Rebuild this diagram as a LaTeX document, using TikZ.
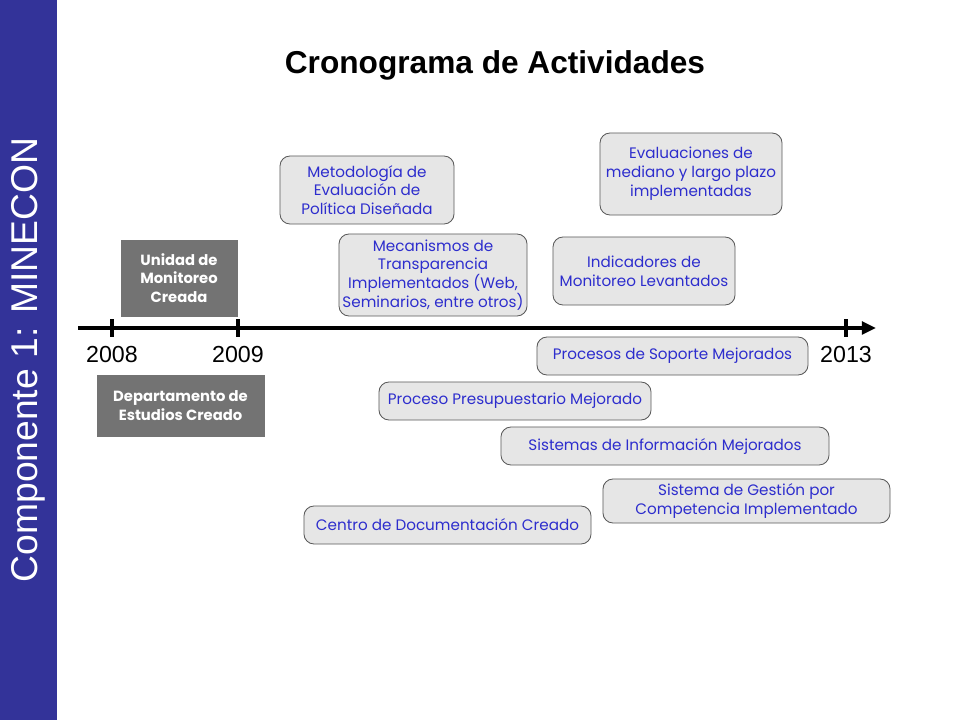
\documentclass[tikz,border=0pt]{standalone}
\usepackage{fontspec}
\setmainfont{Liberation Sans}
\newfontfamily\gothic{Poppins}
\usepackage{tikz}
\usetikzlibrary{arrows.meta, positioning}
\definecolor{bandblue}{RGB}{51, 51, 153}
\definecolor{hitoblue}{RGB}{45, 45, 205}
\definecolor{hitofill}{RGB}{230, 230, 230}
\definecolor{darkfill}{RGB}{115, 115, 115}

\begin{document}
\begin{tikzpicture}[
  x=0.025cm, y=-0.025cm,
  hito/.style={draw=black!65, fill=hitofill, rounded corners=0.25cm,
    line width=0.6pt, align=center, inner sep=1pt, text=hitoblue,
    font=\gothic\fontsize{10.8}{13.4}\selectfont},
  creado/.style={draw=black!55, fill=darkfill, line width=0.6pt,
    align=center, inner sep=1pt, text=white,
    font=\gothic\bfseries\fontsize{10.5}{13.4}\selectfont},
  anio/.style={font=\fontsize{16.5}{18}\selectfont, inner sep=1pt},
  eje/.style={line width=3.5pt, -{Triangle[length=10pt, width=9pt]}},
  marca/.style={line width=2.5pt}
]
\useasboundingbox (0,0) rectangle (960,720);
\fill[bandblue] (0,0) rectangle (57,720);
\node[rotate=90, text=white, font=\fontsize{26.5}{30}\selectfont] (comp)
  at (28,360) {Componente 1: MINECON};
\node[font=\bfseries\fontsize{22.5}{26}\selectfont] (titulo) at (495,65)
  {Cronograma de Actividades};

% linea de tiempo
\coordinate (ini) at (78,328);
\coordinate (fin) at (876,328);
\coordinate (t08) at (112,328);
\coordinate (t09) at (238,328);
\coordinate (t13) at (846,328);
\draw[eje] (ini) -- (fin);
\foreach \t in {t08, t09, t13}
  \draw[marca] ([yshift=0.22cm]\t) -- ([yshift=-0.22cm]\t);
\node[anio, below=0.42cm of t08] (a08) {2008};
\node[anio, below=0.42cm of t09] (a09) {2009};
\node[anio, below=0.42cm of t13] (a13) {2013};

% hitos
\node[creado, minimum width=2.9cm, minimum height=1.9cm] (unidad)
  at (179,278) {Unidad de\\Monitoreo\\Creada};
\node[creado, minimum width=4.175cm, minimum height=1.525cm] (depto)
  at (180.5,405.5) {Departamento de\\Estudios Creado};
\node[hito, minimum width=4.35cm, minimum height=1.7cm] (metodo)
  at (367,190) {Metodología de\\Evaluación de\\Política Diseñada};
\node[hito, minimum width=4.7cm, minimum height=2.05cm] (mecan)
  at (433,275) {Mecanismos de\\Transparencia\\Implementados (Web,\\Seminarios, entre otros)};
\node[hito, minimum width=4.55cm, minimum height=2.05cm] (evalua)
  at (691,174) {Evaluaciones de\\mediano y largo plazo\\implementadas};
\node[hito, minimum width=4.55cm, minimum height=1.7cm] (indica)
  at (644,271) {Indicadores de\\Monitoreo Levantados};
\node[hito, minimum width=6.775cm, minimum height=0.95cm] (soporte)
  at (672.5,356) {Procesos de Soporte Mejorados};
\node[hito, minimum width=6.8cm, minimum height=0.95cm] (presup)
  at (515,401) {Proceso Presupuestario Mejorado};
\node[hito, minimum width=8.2cm, minimum height=0.95cm] (sistinfo)
  at (665,446) {Sistemas de Información Mejorados};
\node[hito, minimum width=7.175cm, minimum height=1.1cm] (gestion)
  at (746.5,501) {Sistema de Gestión por\\Competencia Implementado};
\node[hito, minimum width=7.175cm, minimum height=0.95cm] (centro)
  at (447.5,525) {Centro de Documentación Creado};
\end{tikzpicture}
\end{document}
